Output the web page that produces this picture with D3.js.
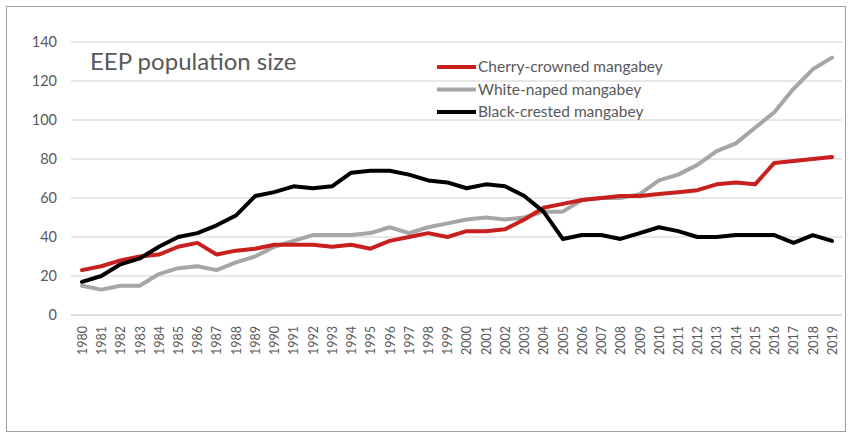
<!DOCTYPE html>
<html><head><meta charset="utf-8">
<script src="https://cdn.jsdelivr.net/npm/d3@7"></script>
<style>body{margin:0;background:#fff}svg{display:block}</style>
</head><body>
<svg id="c" width="852" height="437"></svg>
<script>
const years = d3.range(1980, 2020).map(String);
const cherry = [23,25,28,30,31,35,37,31,33,34,36,36,36,35,36,34,38,40,42,40,43,43,44,49,55,57,59,60,61,61,62,63,64,67,68,67,78,79,80,81];
const whiteNaped = [15,13,15,15,21,24,25,23,27,30,35,38,41,41,41,42,45,42,45,47,49,50,49,50,53,53,59,60,60,62,69,72,77,84,88,96,104,116,126,132];
const blackCrested = [17,20,26,29,35,40,42,46,51,61,63,66,65,66,73,74,74,72,69,68,65,67,66,61,53,39,41,41,39,42,45,43,40,40,41,41,41,37,41,38];
const yTicks = [0,20,40,60,80,100,120,140];
const seriesNames = ["Cherry-crowned mangabey","White-naped mangabey","Black-crested mangabey"];
const seriesColors = ["#c8201f","#a6a6a6","#000000"];
const title = "EEP population size";

const svg = d3.select("#c");
const font = "Lato, 'Open Sans', sans-serif";
svg.append("rect").attr("x",6.5).attr("y",6.5).attr("width",839).attr("height",425)
  .attr("fill","none").attr("stroke","#a0a0a0").attr("stroke-width",1);

const x = d3.scalePoint().domain(years).range([82, 832]);
const y = d3.scaleLinear().domain([0,140]).range([315, 42]);

// gridlines
svg.append("g").selectAll("line").data(yTicks).join("line")
  .attr("x1",71).attr("x2",842).attr("y1",d=>y(d)).attr("y2",d=>y(d))
  .attr("stroke",d=>d===0?"#d0d0d0":"#e0e0e0").attr("stroke-width",1.3);

// y axis
const ya = svg.append("g").attr("transform","translate(57,0)")
  .call(d3.axisLeft(y).tickValues(yTicks).tickSize(0).tickPadding(0));
ya.select(".domain").remove();
ya.selectAll("text").attr("font-family",font).attr("font-size",14.5).attr("fill","#595959");

// x axis
const xa = svg.append("g").attr("transform","translate(0,326)")
  .call(d3.axisBottom(x).tickSize(0).tickPadding(0));
xa.select(".domain").remove();
xa.selectAll("text").attr("font-family",font).attr("font-size",12.5).attr("fill","#595959")
  .attr("text-anchor","end").attr("dx","0").attr("dy","0.35em").attr("x",0).attr("y",0)
  .attr("transform","rotate(-90)");

// lines
const data = [cherry, whiteNaped, blackCrested];
const line = d3.line().x((d,i)=>x(years[i])).y(d=>y(d));
[1,0,2].forEach(k=>{
  svg.append("path").datum(data[k]).attr("d",line).attr("fill","none")
    .attr("stroke",seriesColors[k]).attr("stroke-width",4)
    .attr("stroke-linejoin","round").attr("stroke-linecap","round");
});

// title
svg.append("text").attr("x",90).attr("y",70).attr("font-family",font).attr("font-size",24)
  .attr("fill","#595959").text(title);

// legend
const lg = svg.append("g");
seriesNames.forEach((n,i)=>{
  const yy = 67 + i*22.5;
  lg.append("line").attr("x1",437).attr("x2",476).attr("y1",yy).attr("y2",yy)
    .attr("stroke",seriesColors[i]).attr("stroke-width",4);
  lg.append("text").attr("x",478).attr("y",yy).attr("dy","0.35em").attr("font-family",font)
    .attr("font-size",15.5).attr("fill","#595959").text(n);
});
</script>
</body></html>
